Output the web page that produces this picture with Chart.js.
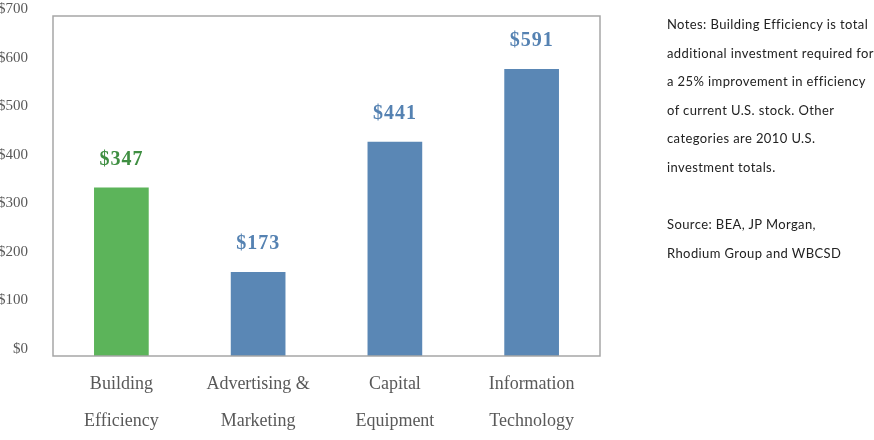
<!DOCTYPE html>
<html>
<head>
<meta charset="utf-8">
<script src="https://cdn.jsdelivr.net/npm/chart.js@4"></script>
<style>
  html, body { margin: 0; padding: 0; background: #fff; }
  #wrap { position: relative; width: 874px; height: 440px; overflow: hidden; }
  #notes {
    position: absolute; left: 667px; top: 10px;
    font-family: Lato, 'Open Sans', sans-serif; font-size: 13px; line-height: 28.6px;
    letter-spacing: 0.4px; color: #222; white-space: nowrap;
  }
</style>
</head>
<body>
<div id="wrap">
  <canvas id="chart" width="874" height="440"></canvas>
  <div id="notes">
    Notes: Building Efficiency is total<br>
    additional investment required for<br>
    a 25% improvement in efficiency<br>
    of current U.S. stock. Other<br>
    categories are 2010 U.S.<br>
    investment totals.<br>
    <br>
    Source: BEA, JP Morgan,<br>
    Rhodium Group and WBCSD
  </div>
</div>
<script>
const categories = [
    ['Building', 'Efficiency'],
    ['Advertising &', 'Marketing'],
    ['Capital', 'Equipment'],
    ['Information', 'Technology']
];
const values = [347, 173, 441, 591];
const barColors = ['#5cb45a', '#5a87b5', '#5a87b5', '#5a87b5'];
const labelColors = ['#3f8f42', '#5582b2', '#5582b2', '#5582b2'];

// gray box around the plot area
const frame = {
    id: 'frame',
    afterDatasetsDraw(chart) {
        const a = chart.chartArea;
        const ctx = chart.ctx;
        ctx.save();
        ctx.strokeStyle = '#a6a6a6';
        ctx.lineWidth = 1.5;
        ctx.strokeRect(a.left, a.top, a.right - a.left, a.bottom - a.top);
        ctx.restore();
    }
};

// dollar labels above bars
const valueLabels = {
    id: 'valueLabels',
    afterDatasetsDraw(chart) {
        const ctx = chart.ctx;
        const meta = chart.getDatasetMeta(0);
        ctx.save();
        ctx.font = "bold 20px 'Liberation Serif', serif";
        ctx.textAlign = 'center';
        ctx.textBaseline = 'middle';
        if ('letterSpacing' in ctx) ctx.letterSpacing = '1px';
        meta.data.forEach((bar, i) => {
            ctx.fillStyle = labelColors[i];
            ctx.fillText('$' + values[i], bar.x, bar.y - 28);
        });
        ctx.restore();
    }
};

new Chart(document.getElementById('chart'), {
    type: 'bar',
    data: {
        labels: categories,
        datasets: [{
            data: values,
            backgroundColor: barColors,
            borderWidth: 0,
            barPercentage: 0.4,
            categoryPercentage: 1
        }]
    },
    options: {
        responsive: false,
        animation: false,
        layout: { padding: { top: 16, right: 274, left: 0, bottom: 0 } },
        plugins: { legend: { display: false }, tooltip: { enabled: false } },
        scales: {
            y: {
                min: 0,
                max: 700,
                afterFit: s => { s.width = 53; s.paddingTop = 0; s.paddingBottom = 0; },
                grid: { display: false, drawTicks: false },
                border: { display: false },
                ticks: {
                    stepSize: 100,
                    padding: 25,
                    labelOffset: -7,
                    color: '#595959',
                    font: { family: "'Liberation Serif', serif", size: 15 },
                    callback: v => '$' + v
                }
            },
            x: {
                afterFit: s => { s.height = 84; s.paddingLeft = 0; s.paddingRight = 0; },
                grid: { display: false, drawTicks: false },
                border: { display: false },
                ticks: {
                    padding: 10,
                    maxRotation: 0,
                    color: '#595959',
                    font: { family: "'Liberation Serif', serif", size: 18, lineHeight: '37px' }
                }
            }
        }
    },
    plugins: [frame, valueLabels]
});
</script>
</body>
</html>
